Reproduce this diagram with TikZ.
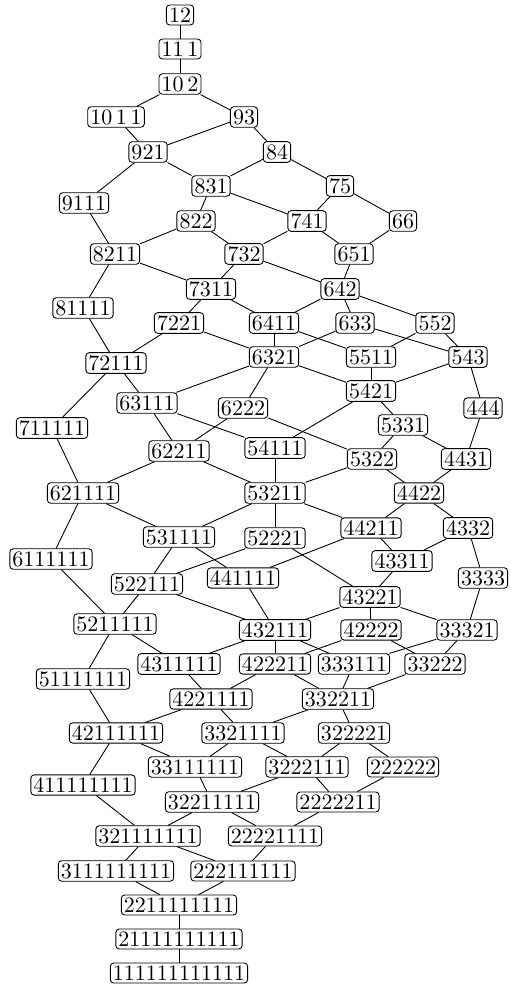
\documentclass[tikz,border=0pt]{standalone}
\usepackage{tikz}

\tikzset{
  partbox/.style={draw, rounded corners=1.5pt, inner xsep=1.2pt, inner ysep=1.2pt, fill=white},
  cover/.style={draw, line width=0.4pt}
}

\begin{document}
\begin{tikzpicture}[x=0.4545pt, y=-0.4545pt]
\useasboundingbox (0,0) rectangle (510,985);
% partitions of 12, dominance order
\node[partbox] (p12) at (180,15) {12};
\node[partbox] (p111) at (180,49) {11\,1};
\node[partbox] (p102) at (180,84) {10\,2};
\node[partbox] (p1011) at (116,117) {10\,1\,1};
\node[partbox] (p93) at (244,117) {93};
\node[partbox] (p921) at (148,152) {921};
\node[partbox] (p84) at (277,152) {84};
\node[partbox] (p9111) at (84,203) {9111};
\node[partbox] (p831) at (211,186) {831};
\node[partbox] (p75) at (340,186) {75};
\node[partbox] (p822) at (196,221) {822};
\node[partbox] (p741) at (307,221) {741};
\node[partbox] (p66) at (403,221) {66};
\node[partbox] (p8211) at (115,254) {8211};
\node[partbox] (p732) at (244,254) {732};
\node[partbox] (p651) at (354,254) {651};
\node[partbox] (p7311) at (211,289) {7311};
\node[partbox] (p642) at (340,289) {642};
\node[partbox] (p81111) at (83,308) {81111};
\node[partbox] (p7221) at (179,323) {7221};
\node[partbox] (p6411) at (274,323) {6411};
\node[partbox] (p633) at (355,323) {633};
\node[partbox] (p552) at (435,323) {552};
\node[partbox] (p72111) at (116,363) {72111};
\node[partbox] (p6321) at (274,357) {6321};
\node[partbox] (p5511) at (371,357) {5511};
\node[partbox] (p543) at (468,357) {543};
\node[partbox] (p5421) at (371,391) {5421};
\node[partbox] (p63111) at (147,403) {63111};
\node[partbox] (p6222) at (243,408) {6222};
\node[partbox] (p444) at (483,408) {444};
\node[partbox] (p711111) at (52,428) {711111};
\node[partbox] (p5331) at (403,425) {5331};
\node[partbox] (p62211) at (179,451) {62211};
\node[partbox] (p54111) at (275,448) {54111};
\node[partbox] (p5322) at (372,459) {5322};
\node[partbox] (p4431) at (466,459) {4431};
\node[partbox] (p621111) at (83,493) {621111};
\node[partbox] (p53211) at (275,493) {53211};
\node[partbox] (p4422) at (419,493) {4422};
\node[partbox] (p44211) at (371,528) {44211};
\node[partbox] (p4332) at (468,528) {4332};
\node[partbox] (p531111) at (179,537) {531111};
\node[partbox] (p52221) at (275,538) {52221};
\node[partbox] (p6111111) at (51,559) {6111111};
\node[partbox] (p43311) at (402,561) {43311};
\node[partbox] (p441111) at (243,578) {441111};
\node[partbox] (p3333) at (483,578) {3333};
\node[partbox] (p522111) at (147,584) {522111};
\node[partbox] (p43221) at (370,597) {43221};
\node[partbox] (p5211111) at (115,624) {5211111};
\node[partbox] (p432111) at (275,630) {432111};
\node[partbox] (p42222) at (371,630) {42222};
\node[partbox] (p33321) at (467,630) {33321};
\node[partbox] (p4311111) at (179,664) {4311111};
\node[partbox] (p422211) at (275,664) {422211};
\node[partbox] (p333111) at (354,664) {333111};
\node[partbox] (p33222) at (435,664) {33222};
\node[partbox] (p51111111) at (83,679) {51111111};
\node[partbox] (p4221111) at (211,699) {4221111};
\node[partbox] (p332211) at (338,699) {332211};
\node[partbox] (p42111111) at (116,733) {42111111};
\node[partbox] (p3321111) at (243,733) {3321111};
\node[partbox] (p322221) at (354,733) {322221};
\node[partbox] (p33111111) at (195,767) {33111111};
\node[partbox] (p3222111) at (307,767) {3222111};
\node[partbox] (p222222) at (403,767) {222222};
\node[partbox] (p411111111) at (83,785) {411111111};
\node[partbox] (p32211111) at (212,802) {32211111};
\node[partbox] (p2222211) at (338,802) {2222211};
\node[partbox] (p321111111) at (148,836) {321111111};
\node[partbox] (p22221111) at (275,836) {22221111};
\node[partbox] (p3111111111) at (116,871) {3111111111};
\node[partbox] (p222111111) at (243,871) {222111111};
\node[partbox] (p2211111111) at (179,905) {2211111111};
\node[partbox] (p21111111111) at (179,939) {21111111111};
\node[partbox] (p111111111111) at (179,973) {111111111111};
% covering relations
\foreach \a/\b in {p12/p111, p111/p102, p102/p93, p102/p1011, p1011/p921,
  p93/p84, p93/p921, p921/p831, p921/p9111, p84/p75, p84/p831,
  p9111/p8211, p831/p741, p831/p822, p75/p66, p75/p741,
  p822/p732, p822/p8211, p741/p651, p741/p732, p66/p651,
  p8211/p7311, p8211/p81111, p732/p642, p732/p7311, p651/p642,
  p7311/p6411, p7311/p7221, p642/p552, p642/p633, p642/p6411,
  p81111/p72111, p7221/p6321, p7221/p72111, p6411/p5511, p6411/p6321,
  p633/p543, p633/p6321, p552/p543, p552/p5511,
  p72111/p63111, p72111/p711111, p6321/p5421, p6321/p6222, p6321/p63111,
  p5511/p5421, p543/p444, p543/p5421, p5421/p5331, p5421/p54111,
  p63111/p54111, p63111/p62211, p6222/p5322, p6222/p62211, p444/p4431,
  p711111/p621111, p5331/p4431, p5331/p5322, p62211/p53211, p62211/p621111,
  p54111/p53211, p5322/p4422, p5322/p53211, p4431/p4422,
  p621111/p531111, p621111/p6111111, p53211/p44211, p53211/p52221, p53211/p531111,
  p4422/p4332, p4422/p44211, p44211/p43311, p44211/p441111,
  p4332/p3333, p4332/p43311, p531111/p441111, p531111/p522111,
  p52221/p43221, p52221/p522111, p6111111/p5211111, p43311/p43221,
  p441111/p432111, p3333/p33321, p522111/p432111, p522111/p5211111,
  p43221/p33321, p43221/p42222, p43221/p432111,
  p5211111/p4311111, p5211111/p51111111,
  p432111/p333111, p432111/p422211, p432111/p4311111,
  p42222/p33222, p42222/p422211, p33321/p33222, p33321/p333111,
  p4311111/p4221111, p422211/p332211, p422211/p4221111,
  p333111/p332211, p33222/p332211, p51111111/p42111111,
  p4221111/p3321111, p4221111/p42111111, p332211/p322221, p332211/p3321111,
  p42111111/p33111111, p42111111/p411111111,
  p3321111/p3222111, p3321111/p33111111, p322221/p222222, p322221/p3222111,
  p33111111/p32211111, p3222111/p2222211, p3222111/p32211111,
  p222222/p2222211, p411111111/p321111111,
  p32211111/p22221111, p32211111/p321111111, p2222211/p22221111,
  p321111111/p222111111, p321111111/p3111111111, p22221111/p222111111,
  p3111111111/p2211111111, p222111111/p2211111111,
  p2211111111/p21111111111, p21111111111/p111111111111}
  \draw[cover] (\a) -- (\b);
\end{tikzpicture}
\end{document}
